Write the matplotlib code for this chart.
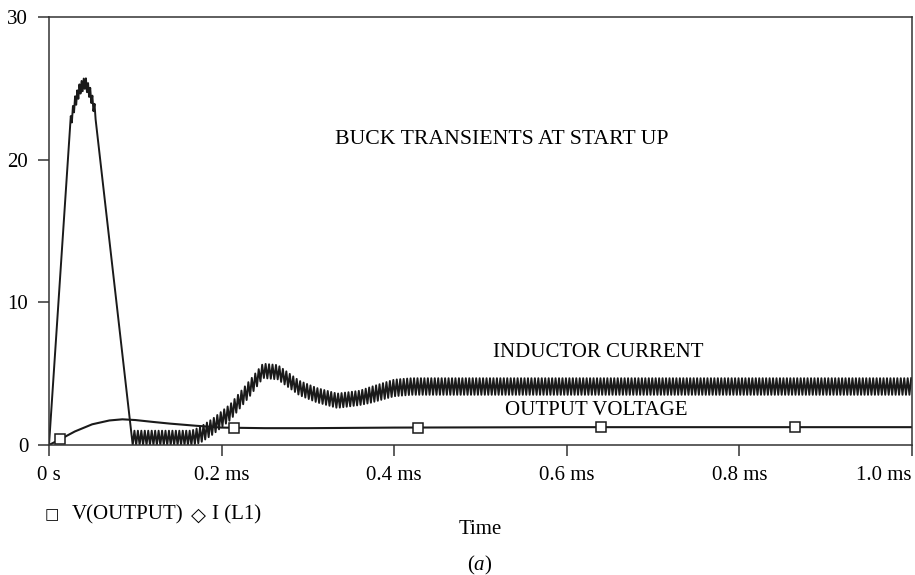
import numpy as np
import matplotlib
matplotlib.use("Agg")
import matplotlib.pyplot as plt

plt.rcParams['font.family'] = ['Liberation Serif', 'DejaVu Serif', 'DejaVu Sans']
plt.rcParams['mathtext.fontset'] = 'custom'
plt.rcParams['mathtext.it'] = 'Liberation Serif:italic'
plt.rcParams['mathtext.rm'] = 'Liberation Serif'

# output voltage (V) vs time (ms)
vout_t = [0, 0.013, 0.03, 0.05, 0.07, 0.085, 0.10, 0.12, 0.14, 0.17, 0.20, 0.25, 0.30, 0.40, 0.60, 0.80, 1.0]
vout_v = [0, 0.4, 0.95, 1.45, 1.72, 1.8, 1.75, 1.62, 1.5, 1.35, 1.22, 1.18, 1.18, 1.22, 1.25, 1.25, 1.25]
vmark_t = [0.013, 0.214, 0.428, 0.640, 0.864]
vmark_v = [0.4, 1.2, 1.22, 1.25, 1.25]

# inductor current: straight ramp up, rippled peak, straight fall, rippled recovery
ramp_t = [0, 0.024]
peak_t = [0.024, 0.030, 0.036, 0.042, 0.048, 0.055]
peak_c = [22.3, 24.0, 25.0, 25.4, 24.6, 23.0]
peak_a = [0.4, 0.4, 0.4, 0.4, 0.4, 0.4]
fall_t = [0.055, 0.097]
rec_t = [0.097, 0.165, 0.175, 0.19, 0.21, 0.233, 0.248, 0.265, 0.29, 0.31, 0.334, 0.36, 0.372, 0.40, 0.42, 1.0]
rec_c = [0.5, 0.5, 0.7, 1.3, 2.3, 4.0, 5.2, 5.1, 4.0, 3.5, 3.1, 3.3, 3.5, 4.0, 4.1, 4.1]
rec_a = [0.5, 0.5, 0.55, 0.55, 0.55, 0.55, 0.5, 0.5, 0.5, 0.5, 0.5, 0.5, 0.55, 0.58, 0.58, 0.58]
peak_period = 0.0025
sw_period = 0.0040

xticks = [0, 0.2, 0.4, 0.6, 0.8, 1.0]
xlabels = ["0 s", "0.2 ms", "0.4 ms", "0.6 ms", "0.8 ms", "1.0 ms"]
yticks = [0, 10, 20, 30]


def zigzag(t, c, a, period):
    tk = np.arange(t[0], t[-1] + 1e-9, period / 2)
    sign = np.where(np.arange(len(tk)) % 2 == 0, -1.0, 1.0)
    return tk, np.interp(tk, t, c) + sign * np.interp(tk, t, a)


pk_t, pk_v = zigzag(peak_t, peak_c, peak_a, peak_period)
rc_t, rc_v = zigzag(rec_t, rec_c, rec_a, sw_period)
il_t = np.concatenate([[ramp_t[0]], pk_t, [fall_t[1]], rc_t])
il_v = np.concatenate([[0], pk_v, [0], rc_v])

fig = plt.figure(figsize=(9.15, 5.75), dpi=100)
ax = fig.add_axes([49 / 915, 130 / 575, 863 / 915, 428 / 575])

ax.plot(il_t, il_v, color="#1a1a1a", lw=1.4)
ax.plot(vout_t, vout_v, color="#1a1a1a", lw=1.5)
ax.plot(vmark_t, vmark_v, ls="none", marker="s", ms=7, mfc="white", mec="#1a1a1a", mew=1.1)

ax.set_xlim(0, 1.0)
ax.set_ylim(0, 30)
ax.set_xticks(xticks)
ax.set_xticklabels(xlabels)
ax.set_yticks(yticks)
ax.xaxis.get_majorticklabels()[-1].set_horizontalalignment("right")
ax.tick_params(direction="out", length=8, width=1.1, color="#333333", labelsize=15, pad=7)
for s in ax.spines.values():
    s.set_color("#333333")
    s.set_linewidth(1.1)

ax.text(0.525, 21.4, "BUCK TRANSIENTS AT START UP", fontsize=15.7, ha="center", va="center")
ax.text(0.637, 6.45, "INDUCTOR CURRENT", fontsize=15, ha="center", va="center")
ax.text(0.634, 2.45, "OUTPUT VOLTAGE", fontsize=15, ha="center", va="center")

# legend line under the plot
fig.text(52 / 915, 1 - 515 / 575, "\u25a1", fontsize=11, ha="center", va="center",
         family=["DejaVu Sans"])
fig.text(72 / 915, 1 - 515 / 575, "V(OUTPUT)", fontsize=15, ha="left", va="center")
fig.text(198 / 915, 1 - 515 / 575, "\u25c7", fontsize=14, ha="center", va="center",
         family=["DejaVu Sans"])
fig.text(212 / 915, 1 - 515 / 575, "I (L1)", fontsize=15, ha="left", va="center")

fig.text(480 / 915, 1 - 530 / 575, "Time", fontsize=15, ha="center", va="center")
fig.text(480 / 915, 1 - 565 / 575, "($\\mathit{a}$)", fontsize=15, ha="center", va="center")

fig.savefig("out.png", dpi=100)
